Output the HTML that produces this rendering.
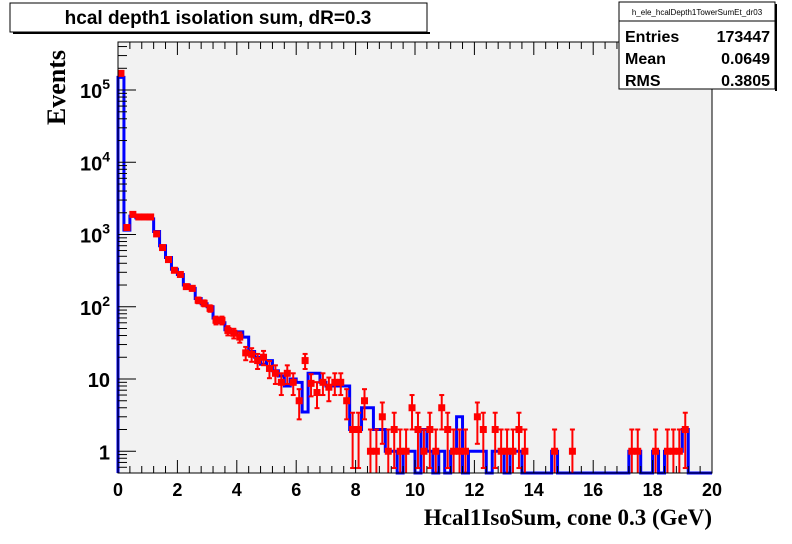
<!DOCTYPE html>
<html><head><meta charset="utf-8"><style>
body{margin:0;background:#fff;width:792px;height:544px;overflow:hidden}
svg{display:block}
</style></head><body>
<svg id="c" width="792" height="544" xmlns="http://www.w3.org/2000/svg">
<rect x="0" y="0" width="792" height="544" fill="#fff"/>
<rect x="118" y="42" width="594" height="431" fill="#f2f2f2"/>
<g id="series"></g>
<g id="axes"></g>
<rect x="118" y="42" width="594" height="431" fill="none" stroke="#000" stroke-width="1"/>
<g>
<rect x="10" y="3" width="417" height="29" fill="#fff" stroke="#000"/>
<rect x="13" y="32" width="417" height="2" fill="#000"/>
<text x="218" y="24" text-anchor="middle" font-family="Liberation Sans, sans-serif" font-weight="bold" font-size="19">hcal depth1 isolation sum, dR=0.3</text>
</g>
<g font-family="Liberation Sans, sans-serif" font-weight="bold">
<rect x="619" y="2" width="156" height="87" fill="#fff" stroke="#000"/>
<rect x="775" y="4" width="2" height="87" fill="#000"/>
<line x1="619" y1="21" x2="775" y2="21" stroke="#000"/>
<text x="697" y="15" text-anchor="middle" font-size="8" font-weight="normal">h_ele_hcalDepth1TowerSumEt_dr03</text>
<text x="625" y="42" font-size="16">Entries</text><text x="770" y="42" text-anchor="end" font-size="16">173447</text>
<text x="625" y="64" font-size="16">Mean</text><text x="770" y="64" text-anchor="end" font-size="16">0.0649</text>
<text x="625" y="86" font-size="16">RMS</text><text x="770" y="86" text-anchor="end" font-size="16">0.3805</text>
</g>
<text transform="translate(65,50) rotate(-90)" text-anchor="end" font-family="Liberation Serif, serif" font-weight="bold" font-size="26">Events</text>
<text x="712" y="525" text-anchor="end" font-family="Liberation Serif, serif" font-weight="bold" font-size="23">Hcal1IsoSum, cone 0.3 (GeV)</text>
</svg>
<script>
const redCounts=[170000,1250,1900,1750,1750,1750,1020,660,450,320,280,190,180,123,112,95,65,65,47,43,38,23,22,18,20,14,12,9,12,9,5,18,8.7,6.5,9,7.7,9,9,5,2,2,5,1,1,3,1,2,1,1,4,2,1,2,1,4,2,1,1,1,0,3,2,0,2,1,1,1,2,1,0,0,0,0,1,0,0,1,0,0,0,0,0,0,0,0,0,1,1,0,0,1,0,1,1,1,2,0,0,0,0];
const blueCounts=[150000,1150,1800,1700,1700,1650,1100,700,480,330,280,200,180,130,110,100,70,60,48,44,45,38,24,20,16,18,13,11,8,10,9,3.5,12,12,9,8,8,8,8,2,2,4,4,2,2,1,1,0,1,1,0,2,1,0,1,0,1,3,0,1,1,1,0,1,1,0,1,1,0,0,0,0,0,1,0,0,0,0,0,0,0,0,0,0,0,0,1,1,0,0,1,0,1,1,1,2,0,0,0,0];
const xTicks=[0,2,4,6,8,10,12,14,16,18,20];
const yTickLabels=["1","10","10²","10³","10⁴","10⁵"];
const xMin=0,xMax=20,binW=0.2,yMinLog=Math.log10(0.5),yMaxLog=5.665;
const X=v=>118+(v-xMin)/(xMax-xMin)*594;
const Y=v=>{const l=v>0?Math.max(Math.log10(v),yMinLog):yMinLog;return 473-(l-yMinLog)/(yMaxLog-yMinLog)*431;};
const NS="http://www.w3.org/2000/svg";
const ser=document.getElementById('series'),ax=document.getElementById('axes');
function mk(tag,attrs,parent){const e=document.createElementNS(NS,tag);for(const k in attrs)e.setAttribute(k,attrs[k]);parent.appendChild(e);return e;}
let d='M'+X(0)+','+Y(0.5);
blueCounts.forEach((c,i)=>{const y=Y(c);d+=' L'+X(i*binW)+','+y+' L'+X((i+1)*binW)+','+y;});
const bl=mk('path',{d:d,fill:'none',stroke:'#0000ff','stroke-width':3},ser);


redCounts.forEach((c,i)=>{if(c<=0)return;const cx=X((i+0.5)*binW);const e=Math.sqrt(c);
 const g=mk('g',{},ser);
 
 
 const y1=Y(c+e),y2=Y(c-e);
 mk('line',{x1:cx,x2:cx,y1:y1,y2:y2,stroke:'#f00','stroke-width':2},g);
 mk('line',{x1:cx-2.5,x2:cx+2.5,y1:y1,y2:y1,stroke:'#f00','stroke-width':2},g);
 if(y2<472)mk('line',{x1:cx-2.5,x2:cx+2.5,y1:y2,y2:y2,stroke:'#f00','stroke-width':2},g);
 mk('rect',{x:cx-3.5,y:Y(c)-3.5,width:7,height:7,fill:'#f00'},g);
});
for(let v=0;v<=20.001;v+=0.4){const x=X(v);const maj=Math.abs(v/2-Math.round(v/2))<1e-6;
 mk('line',{x1:x,x2:x,y1:473,y2:473-(maj?13:7),stroke:'#000'},ax);
 mk('line',{x1:x,x2:x,y1:42,y2:42+(maj?13:7),stroke:'#000'},ax);}
xTicks.forEach(v=>{const t=mk('text',{x:X(v),y:496,'text-anchor':'middle','font-family':'Liberation Sans, sans-serif','font-weight':'bold','font-size':'18'},ax);
 
 
 t.textContent=v;});
for(let dec=-1;dec<=5;dec++){for(let m=1;m<10;m++){const v=m*Math.pow(10,dec);const l=Math.log10(v);if(l<yMinLog||l>yMaxLog)continue;
 mk('line',{x1:118,x2:118+(m==1?18:9),y1:Y(v),y2:Y(v),stroke:'#000'},ax);}}
yTickLabels.forEach((s,i)=>{const v=Math.pow(10,i);const t=mk('text',{x:110,y:Y(v)+8,'text-anchor':'end','font-family':'Liberation Sans, sans-serif','font-weight':'bold','font-size':'20'},ax);
 
 
 if(i>=2){t.textContent='10';const sp=mk('tspan',{dy:-9,'font-size':'14'},t);sp.textContent=String(i);}else t.textContent=s;});
</script>
</body></html>
